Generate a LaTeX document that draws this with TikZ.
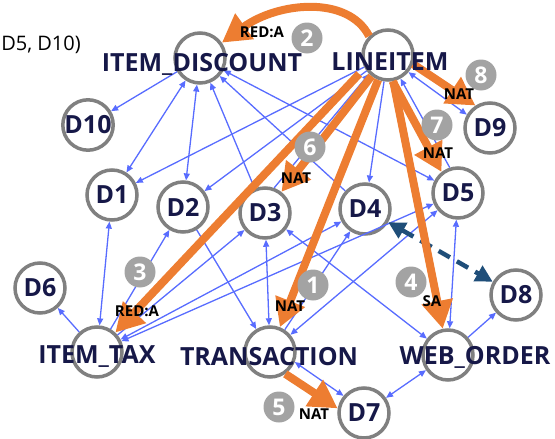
\documentclass[tikz,border=0pt]{standalone}
\usepackage{fontspec}
\setmainfont{Open Sans}
\usepackage{tikz}
\usetikzlibrary{arrows.meta}

\definecolor{navy}{RGB}{22,24,72}
\definecolor{ringgray}{RGB}{128,128,128}
\definecolor{edgeblue}{RGB}{88,108,255}
\definecolor{pickorange}{RGB}{237,125,49}
\definecolor{dashblue}{RGB}{31,78,121}
\definecolor{badgegray}{RGB}{163,163,163}

\begin{document}
\begin{tikzpicture}[x=1pt,y=1pt,
    var/.style={circle, draw=ringgray, line width=3.5pt, fill=white,
      minimum size=50pt, inner sep=0pt,
      font=\fontsize{25}{25}\selectfont\bfseries, text=navy},
    tblname/.style={font=\fontsize{25}{25}\selectfont\bfseries, text=navy, inner sep=0pt},
    badge/.style={circle, fill=badgegray, minimum size=31pt, inner sep=0pt,
      font=\fontsize{23}{23}\selectfont\bfseries, text=white},
    tag/.style={font=\fontsize{15}{15}\selectfont\bfseries, inner sep=0pt},
    dep/.style={draw=edgeblue, line width=1.3pt, -{Triangle[length=7pt,width=6pt]}},
    dep2/.style={dep, {Triangle[length=7pt,width=6pt]}-{Triangle[length=7pt,width=6pt]}},
    pick/.style={draw=pickorange, line width=8pt, -{Triangle[length=28pt,width=30pt]}},
  ]
  \path[use as bounding box, clip] (0,0) rectangle (555,-439);

  % caption at the left edge
  \node[anchor=east, font=\fontsize{20}{20}\selectfont, inner sep=0pt] (cap) at (81,-45) {D5, D10)};

  % tables
  \node[var] (ID) at (200,-58) {};
  \node[var] (LI) at (388,-55) {};
  \node[var] (IT) at (97,-352) {};
  \node[var] (TR) at (270,-352) {};
  \node[var] (WO) at (448,-355) {};
  % columns
  \node[var] (D10) at (88,-125) {D10};
  \node[var] (D9) at (490,-128) {D9};
  \node[var] (D1) at (112,-195) {D1};
  \node[var] (D2) at (183,-207) {D2};
  \node[var] (D3) at (265,-213) {D3};
  \node[var] (D4) at (365,-209) {D4};
  \node[var] (D5) at (458,-193) {D5};
  \node[var] (D6) at (40,-288) {D6};
  \node[var] (D8) at (516,-295) {D8};
  \node[var] (D7) at (364,-413) {D7};

  % dependencies
  \draw[dep] (ID) -- (D10);
  \draw[dep2] (ID) -- (D1);
  \draw[dep2] (ID) -- (D2);
  \draw[dep] (D3) -- (ID);
  \draw[dep] (D4) -- (ID);
  \draw[dep2] (D5) -- (ID);
  \draw[dep] (LI) -- (D1);
  \draw[dep] (LI) -- (D2);
  \draw[dep] (D3.70) -- (LI.225);
  \draw[dep] (LI) -- (D4);
  \draw[dep] (D5.108) -- (LI.-62);
  \draw[dep2] (LI.-40) -- (D9.150);
  \draw[dep] (IT) -- (D6);
  \draw[dep2] (IT) -- (D1);
  \draw[dep] (IT) -- (D2);
  \draw[dep] (IT) -- (D3);
  \draw[dep2] (IT) -- (D4);
  \draw[dep2] (IT) -- (D5);
  \draw[dep] (D2) -- (TR);
  \draw[dep2] (D3) -- (TR);
  \draw[dep] (TR) -- (D4);
  \draw[dep2] (TR) -- (D5);
  \draw[dep2] (D3) -- (WO);
  \draw[dep2] (D5) -- (WO);
  \draw[dep] (WO) -- (D8);
  \draw[dep2] (WO) -- (D7);
  \draw[dep2] (TR.-22) -- (D7.140);

  % dashed link
  \draw[draw=dashblue, line width=4.5pt, dash pattern=on 13pt off 8pt,
    {Triangle[length=17pt,width=17pt]}-{Triangle[length=17pt,width=17pt]}] (D4) -- (D8);

  % chosen steps
  \coordinate (LIl) at (377,-55);
  \draw[pick] (LI.135) .. controls (348,5) and (278,-2) .. (ID.35);
  \draw[pick] (LI.-20) -- (D9.123);
  \draw[pick] (LI.-80) -- (D5.128);
  \draw[pick] (LI) -- (D3);
  \draw[pick, shorten <=26pt] (LIl) -- (IT);
  \draw[pick] (LI) -- (TR);
  \draw[pick] (LI) -- (WO);
  \draw[pick] (TR.-55) -- (D7.170);

  % table names
  \node[tblname] (IDt) at (202,-64) {ITEM\_DISCOUNT};
  \node[tblname] (LIt) at (390,-62) {LINEITEM};
  \node[tblname] (ITt) at (97,-357) {ITEM\_TAX};
  \node[tblname] (TRt) at (269,-357) {TRANSACTION};
  \node[tblname] (WOt) at (475,-357) {WEB\_ORDER};

  % step numbers
  \node[badge] (n1) at (313,-285) {1};
  \node[badge] (n2) at (307,-38) {2};
  \node[badge] (n3) at (140,-272) {3};
  \node[badge] (n4) at (411,-282) {4};
  \node[badge] (n5) at (279,-407) {5};
  \node[badge] (n6) at (310,-147) {6};
  \node[badge] (n7) at (437,-125) {7};
  \node[badge] (n8) at (481,-75) {8};

  % step kinds
  \node[tag] (k2) at (262,-32) {RED:A};
  \node[tag] (k8) at (459,-94) {NAT};
  \node[tag] (k7) at (438,-153) {NAT};
  \node[tag] (k6) at (296,-178) {NAT};
  \node[tag] (k1) at (290,-306) {NAT};
  \node[tag] (k3) at (137,-311) {RED:A};
  \node[tag] (k4) at (432,-301) {SA};
  \node[tag] (k5) at (314,-414) {NAT};
\end{tikzpicture}
\end{document}
